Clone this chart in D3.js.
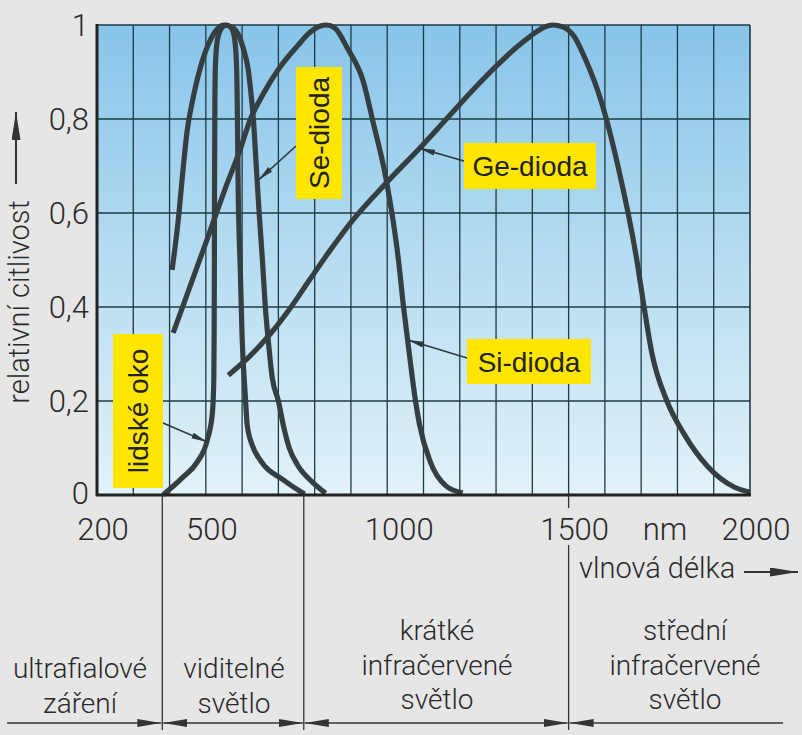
<!DOCTYPE html>
<html><head><meta charset="utf-8">
<script src="https://cdn.jsdelivr.net/npm/d3@7"></script>
<style>
body{margin:0;background:#e6e6e6;}
svg{display:block;}
text{font-family:Roboto,"Liberation Sans",Arial,sans-serif;font-weight:300;fill:#2a2a2a;}
text.lab{font-family:"Liberation Sans",Arial,sans-serif;font-weight:400;fill:#222;}
</style>
</head><body>
<svg id="c" width="802" height="735"></svg>
<script>
// ---- data ----
const xTickValues = [200, 500, 1000, 1500, 2000];
const xTickLabels = ["200", "500", "1000", "1500", "2000"];
const yTickValues = [0, 0.2, 0.4, 0.6, 0.8, 1];
const yTickLabels = ["0", "0,2", "0,4", "0,6", "0,8", "1"];
const gridNm = [300,400,500,600,700,800,900,1000,1100,1200,1300,1400,1500,1600,1700,1800,1900];

const eyeNm  = [382,437,476,504,518,522,523,523.5,524,525,526.5,531,542,556,570,578,584,586.5,589,595,600,609,614,628,650,714,772];
const eyeVal = [0,0.038,0.07,0.117,0.174,0.245,0.351,0.479,0.66,0.84,0.915,0.964,0.992,1,0.994,0.977,0.926,0.84,0.66,0.479,0.336,0.209,0.149,0.106,0.074,0.032,0.002];

const seNm  = [407,424,437,448,465,493,520,548,575,603,617,625,631,639,647,656,664,672,683,700,716,730,752,796,830];
const seVal = [0.479,0.585,0.691,0.772,0.845,0.93,0.979,1,0.994,0.951,0.904,0.85,0.8,0.7,0.6,0.5,0.4,0.33,0.25,0.2,0.14,0.1,0.065,0.026,0.004];

const siNm  = [410,457,504,553,595,622,658,705,752,788,816,832,855,890,934,962,995,1017,1031,1045,1061,1078,1089,1119,1161,1208];
const siVal = [0.345,0.445,0.545,0.651,0.736,0.798,0.853,0.911,0.955,0.985,0.998,1,0.994,0.951,0.88,0.79,0.68,0.58,0.5,0.4,0.3,0.2,0.15,0.07,0.02,0.004];

const geNm  = [562,622,678,733,788,843,899,995,1092,1175,1244,1304,1354,1396,1429,1456,1484,1514,1547,1589,1636,1688,1708,1730,1771,1818,1884,1956,2000];
const geVal = [0.255,0.296,0.343,0.398,0.46,0.521,0.579,0.662,0.74,0.81,0.868,0.915,0.951,0.977,0.994,1,0.996,0.977,0.926,0.84,0.7,0.5,0.4,0.3,0.2,0.13,0.06,0.017,0.006];

const seriesNames = ["lidské oko", "Se-dioda", "Si-dioda", "Ge-dioda"];
const arrowTipNm  = [504, 645, 1057, 1088];
const arrowTipVal = [0.113, 0.67, 0.33, 0.738];

const regionBounds = [380, 770, 1500];
const regionLabels = [["ultrafialové","záření"],["viditelné","světlo"],["krátké","infračervené","světlo"],["střední","infračervené","světlo"]];

// ---- layout ----
const svg = d3.select("#c");
const L = 97, R = 750, T = 25, B = 495;
const x = d3.scaleLinear().domain([200, 2000]).range([L, R]);
const y = d3.scaleLinear().domain([0, 1]).range([B, T]);

const defs = svg.append("defs");
const grad = defs.append("linearGradient").attr("id","bg").attr("x1",0).attr("y1",0).attr("x2",0).attr("y2",1);
grad.append("stop").attr("offset","0%").attr("stop-color","#88c5ea");
grad.append("stop").attr("offset","50%").attr("stop-color","#b6dcf1");
grad.append("stop").attr("offset","100%").attr("stop-color","#e2f2f9");

defs.append("marker").attr("id","ah").attr("viewBox","0 0 16 8").attr("refX",16).attr("refY",4)
  .attr("markerWidth",16).attr("markerHeight",8).attr("markerUnits","userSpaceOnUse").attr("orient","auto")
  .append("path").attr("d","M0,1 L16,4 L0,7 Z").attr("fill","#2f3a3d");
defs.append("marker").attr("id","bh").attr("viewBox","0 0 24 8").attr("refX",24).attr("refY",4)
  .attr("markerWidth",24).attr("markerHeight",8).attr("markerUnits","userSpaceOnUse").attr("orient","auto-start-reverse")
  .append("path").attr("d","M0,0 L24,4 L0,8 Z").attr("fill","#333");
defs.append("marker").attr("id","th").attr("viewBox","0 0 28 9").attr("refX",28).attr("refY",4.5)
  .attr("markerWidth",28).attr("markerHeight",9).attr("markerUnits","userSpaceOnUse").attr("orient","auto")
  .append("path").attr("d","M0,0 L28,4.5 L0,9 Z").attr("fill","#333");

// plot background
svg.append("rect").attr("x",L).attr("y",T).attr("width",R-L).attr("height",B-T).attr("fill","url(#bg)");

// grid
const grid = svg.append("g").attr("stroke","#1e3a42");
grid.selectAll("line.v").data(gridNm).join("line").attr("class","v")
  .attr("x1",d=>x(d)).attr("x2",d=>x(d)).attr("y1",T).attr("y2",B).attr("stroke-width",1.3);
grid.selectAll("line.h").data(yTickValues.slice(1)).join("line").attr("class","h")
  .attr("x1",L).attr("x2",R).attr("y1",d=>y(d)).attr("y2",d=>y(d)).attr("stroke-width",1.6);
svg.append("line").attr("x1",R).attr("x2",R).attr("y1",T).attr("y2",B).attr("stroke","#1e3a42").attr("stroke-width",1.6);

// curves
const line = d3.line().x(d=>x(d[0])).y(d=>y(d[1])).curve(d3.curveMonotoneX);
const series = [[eyeNm,eyeVal],[seNm,seVal],[siNm,siVal],[geNm,geVal]];
svg.append("g").selectAll("path").data(series).join("path")
  .attr("d",s=>line(s[0].map((n,i)=>[n,s[1][i]])))
  .attr("fill","none").attr("stroke","#353e41").attr("stroke-width",5.2).attr("stroke-linejoin","round");

// frame axes (left & bottom thick)
svg.append("line").attr("x1",L).attr("x2",L).attr("y1",T-1).attr("y2",B+1).attr("stroke","#222").attr("stroke-width",3);
svg.append("line").attr("x1",L-1).attr("x2",R+1).attr("y1",B).attr("y2",B).attr("stroke","#222").attr("stroke-width",3);

// y tick labels
svg.append("g").selectAll("text").data(yTickValues).join("text")
  .attr("x",89).attr("y",d=>y(d)).attr("dy",d=>d===0?"0.28em":"0.36em").attr("text-anchor","end")
  .attr("font-size",31).text((d,i)=>yTickLabels[i]);

// x tick labels
svg.append("g").selectAll("text").data(xTickValues).join("text")
  .attr("x",d=>x(d)+(d===1000?12:6)).attr("y",540).attr("text-anchor","middle")
  .attr("font-size",31).text((d,i)=>xTickLabels[i]);
svg.append("text").attr("x",665).attr("y",540).attr("text-anchor","middle").attr("font-size",31).text("nm");

// axis titles
svg.append("text").attr("transform","translate(29,302) rotate(-90)").attr("text-anchor","middle")
  .attr("font-size",29).text("relativní citlivost");
svg.append("line").attr("x1",16).attr("x2",16).attr("y1",184).attr("y2",112)
  .attr("stroke","#333").attr("stroke-width",2).attr("marker-end","url(#th)");
svg.append("text").attr("x",579).attr("y",578).attr("font-size",29).text("vlnová délka");
svg.append("line").attr("x1",744).attr("x2",798).attr("y1",572).attr("y2",572)
  .attr("stroke","#333").attr("stroke-width",2).attr("marker-end","url(#th)");

// region separators
svg.append("g").selectAll("line").data(regionBounds).join("line")
  .attr("x1",d=>x(d)).attr("x2",d=>x(d)).attr("y1",d=>d===1500?545:B).attr("y2",730)
  .attr("stroke","#333").attr("stroke-width",1.3);
svg.append("line").attr("x1",x(1500)).attr("x2",x(1500)).attr("y1",B).attr("y2",508).attr("stroke","#333").attr("stroke-width",1.3);

// region arrows
const segs = [[7, x(regionBounds[0]), false, true],
              [x(regionBounds[0]), x(regionBounds[1]), true, true],
              [x(regionBounds[1]), x(regionBounds[2]), true, true],
              [x(regionBounds[2]), 783, true, false]];
svg.append("g").selectAll("line").data(segs).join("line")
  .attr("x1",d=>d[0]+(d[2]?1:0)).attr("x2",d=>d[1]-(d[3]?1:0)).attr("y1",723).attr("y2",723)
  .attr("stroke","#333").attr("stroke-width",1.5)
  .attr("marker-start",d=>d[2]?"url(#bh)":null).attr("marker-end",d=>d[3]?"url(#bh)":null);

// region labels
const labelCx = [80, 234, 437, 685];
const labelTop = [678, 678, 640, 640];
regionLabels.forEach((lines,i)=>{
  lines.forEach((t,j)=>{
    svg.append("text").attr("x",labelCx[i]).attr("y",labelTop[i]+j*34.5).attr("text-anchor","middle")
      .attr("font-size",28).text(t);
  });
});

// series labels (yellow boxes)
const boxes = [
  {x:113,y:334,w:50,h:154,rot:true, sx:163,sy:423},
  {x:296,y:67,w:46,h:132,rot:true, sx:296,sy:146},
  {x:467,y:339,w:124,h:45,rot:false, sx:467,sy:358},
  {x:464,y:143,w:132,h:46,rot:false, sx:464,sy:161}
];
boxes.forEach((b,i)=>{
  svg.append("line").attr("x1",b.sx).attr("y1",b.sy)
    .attr("x2",x(arrowTipNm[i])).attr("y2",y(arrowTipVal[i]))
    .attr("stroke","#2f3a3d").attr("stroke-width",1.6).attr("marker-end","url(#ah)");
  svg.append("rect").attr("x",b.x).attr("y",b.y).attr("width",b.w).attr("height",b.h).attr("fill","#ffe600");
  const cx=b.x+b.w/2, cy=b.y+b.h/2;
  svg.append("text").attr("class","lab").attr("transform",`translate(${cx},${cy})`+(b.rot?" rotate(-90)":""))
    .attr("text-anchor","middle").attr("dy","0.36em").attr("font-size",28).text(seriesNames[i]);
});
</script>
</body></html>
